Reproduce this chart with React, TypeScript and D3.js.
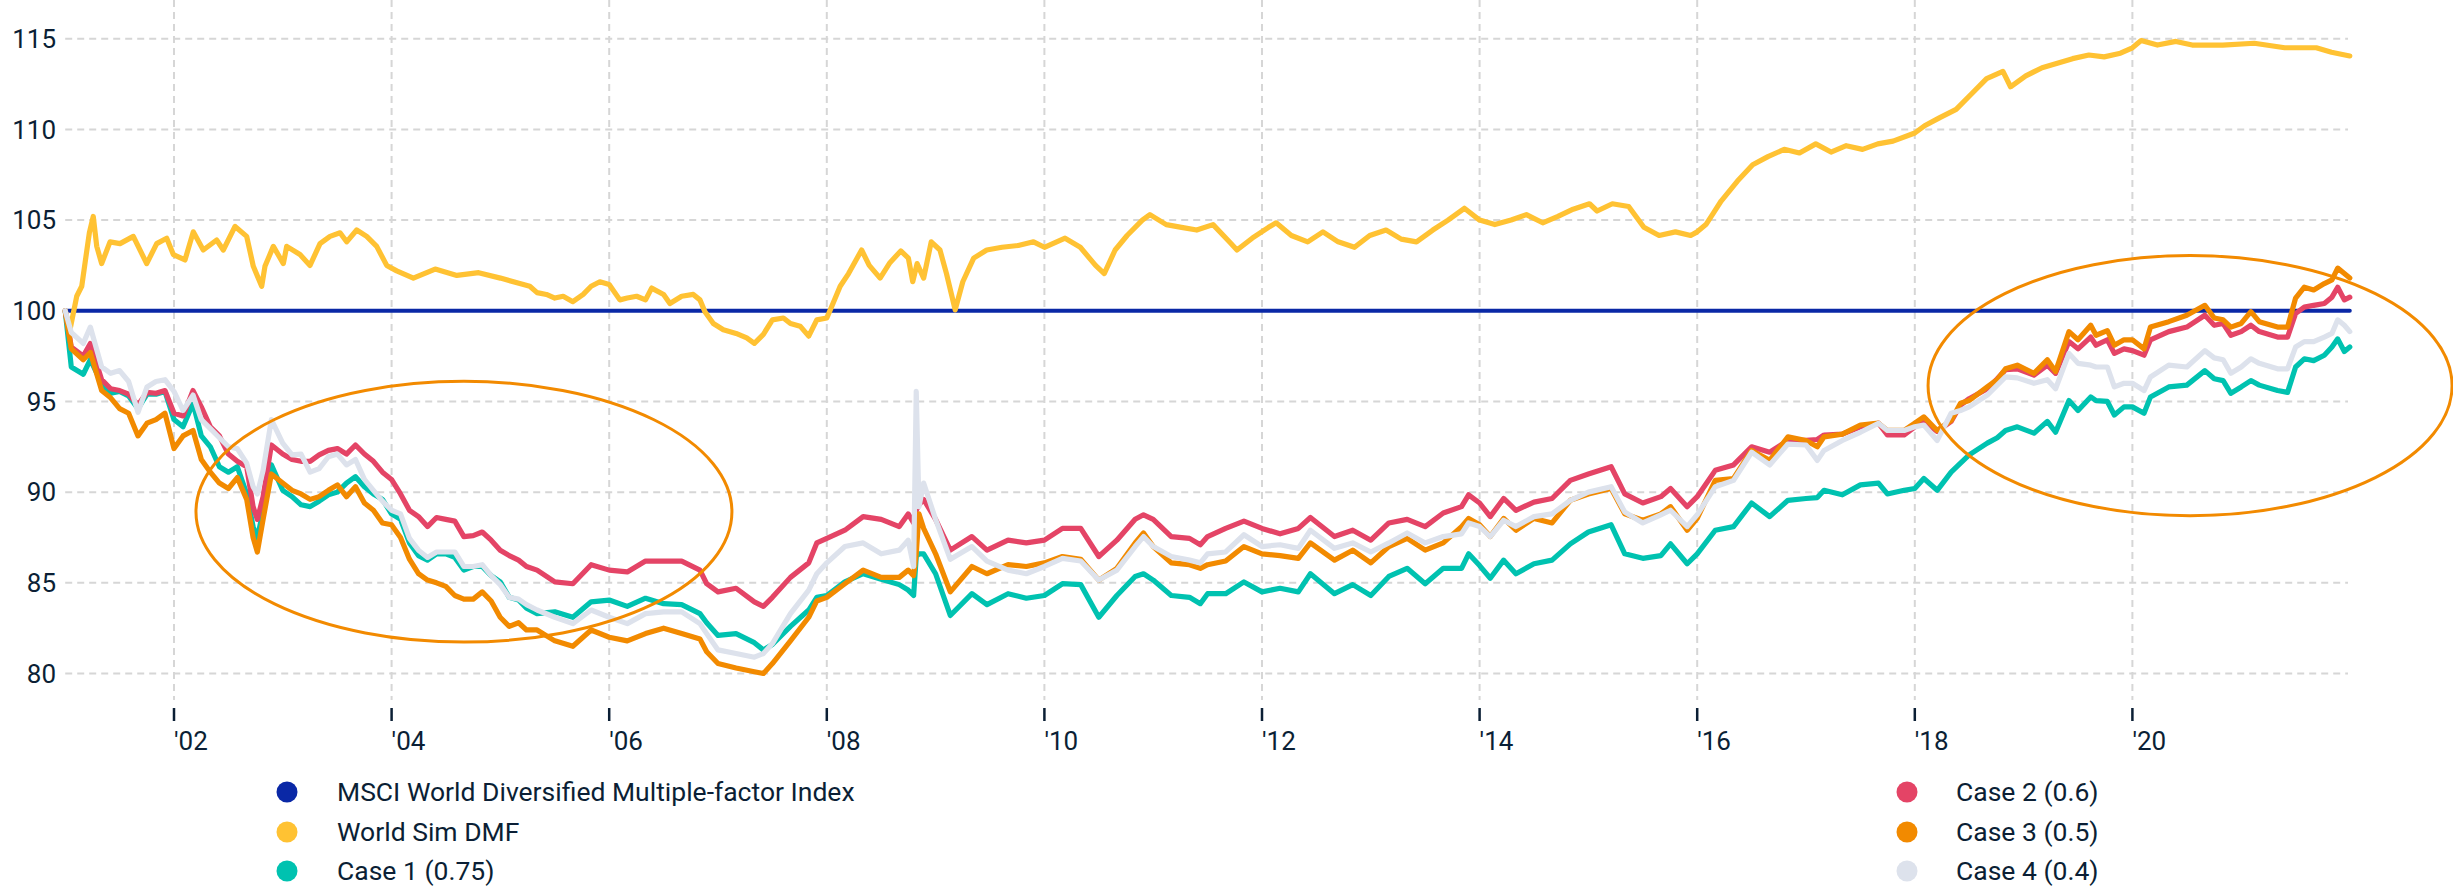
import React from "react";
import * as d3 from "d3";

// ---------- DATA (decimal years, index level) ----------
const caseYears = [
  2001.0, 2001.056, 2001.166, 2001.231, 2001.335, 2001.418, 2001.5, 2001.583, 2001.669, 2001.752, 2001.834, 2001.917,
  2002.0, 2002.083, 2002.175, 2002.251, 2002.334, 2002.417, 2002.5, 2002.582, 2002.668, 2002.727, 2002.766, 2002.819, 2002.895,
  2002.999, 2003.085, 2003.168, 2003.251, 2003.334, 2003.419, 2003.502, 2003.585, 2003.668, 2003.75, 2003.833, 2003.916,
  2003.999, 2004.082, 2004.164, 2004.247, 2004.33, 2004.413, 2004.498, 2004.581, 2004.664, 2004.75, 2004.833, 2004.915,
  2004.998, 2005.081, 2005.167, 2005.24,
  2005.337, 2005.5, 2005.666, 2005.834, 2006.0, 2006.166, 2006.334, 2006.5, 2006.666, 2006.834, 2006.896,
  2007.0, 2007.166, 2007.334, 2007.417, 2007.5, 2007.666, 2007.834, 2007.908,
  2008.0, 2008.166, 2008.334, 2008.5, 2008.666, 2008.748, 2008.798, 2008.822, 2008.847, 2008.89,
  2009.0, 2009.135, 2009.334, 2009.472,
  2009.666, 2009.834, 2010.0, 2010.166, 2010.334, 2010.5, 2010.666, 2010.834, 2010.911, 2011.0,
  2011.166, 2011.334, 2011.433, 2011.5, 2011.666, 2011.834, 2012.0, 2012.166, 2012.334, 2012.445,
  2012.666, 2012.834, 2013.0, 2013.166, 2013.334, 2013.5, 2013.666,
  2013.834, 2013.899, 2014.0, 2014.098, 2014.221, 2014.334, 2014.5, 2014.666, 2014.834, 2015.0,
  2015.209, 2015.334, 2015.5, 2015.666, 2015.755, 2015.908, 2016.0, 2016.166, 2016.334, 2016.5,
  2016.666, 2016.834, 2017.0, 2017.104, 2017.166, 2017.334, 2017.5, 2017.666, 2017.748, 2017.902,
  2018.0, 2018.083, 2018.206, 2018.334, 2018.42, 2018.5, 2018.666, 2018.758, 2018.834, 2018.942,
  2019.095, 2019.218, 2019.294, 2019.417, 2019.5, 2019.617, 2019.666, 2019.77, 2019.834, 2019.923,
  2020.0, 2020.107, 2020.166, 2020.334, 2020.5, 2020.666, 2020.752, 2020.834, 2020.905, 2021.0,
  2021.089, 2021.166, 2021.334, 2021.426, 2021.5, 2021.58, 2021.666, 2021.764, 2021.834, 2021.887, 2021.948, 2021.998,
];

const case1 = [
  100, 96.9, 96.5, 97.3, 96.0, 95.45, 95.55, 95.3, 94.6, 95.4, 95.4, 95.55,
  94.0, 93.6, 94.9, 93.1, 92.5, 91.4, 91.1, 91.4, 89.9, 88.1, 87.45, 89.0, 91.5,
  90.1, 89.75, 89.3, 89.2, 89.5, 89.85, 90.0, 90.5, 90.85, 90.3, 89.9, 89.6,
  88.8, 88.5, 87.2, 86.5, 86.25, 86.6, 86.6, 86.4, 85.7, 85.9, 85.9, 85.4,
  85.05, 84.2, 84.05, 83.6,
  83.3, 83.4, 83.1, 83.95, 84.05, 83.7, 84.15, 83.85, 83.8, 83.3, 82.8,
  82.1, 82.2, 81.7, 81.3, 81.6, 82.6, 83.5, 84.2,
  84.3, 85.05, 85.5, 85.2, 84.9, 84.6, 84.3, 86.45, 86.6, 86.6,
  85.5, 83.2, 84.4, 83.8,
  84.4, 84.15, 84.3, 84.95, 84.9, 83.1, 84.3, 85.35, 85.5, 85.15,
  84.3, 84.2, 83.85, 84.4, 84.4, 85.05, 84.5, 84.7, 84.5, 85.5,
  84.4, 84.9, 84.3, 85.35, 85.8, 84.95, 85.8,
  85.8, 86.6, 85.95, 85.25, 86.25, 85.5, 86.05, 86.25, 87.15, 87.8,
  88.2, 86.6, 86.35, 86.5, 87.15, 86.05, 86.6, 87.9, 88.1, 89.4,
  88.65, 89.55, 89.65, 89.7, 90.1, 89.85, 90.4, 90.5, 89.9, 90.1,
  90.2, 90.75, 90.1, 91.1, 91.6, 92.05, 92.7, 93.0, 93.4, 93.6,
  93.25, 93.9, 93.3, 95.05, 94.5, 95.25, 95.05, 95.0, 94.25, 94.7,
  94.7, 94.35, 95.25, 95.8, 95.9, 96.7, 96.25, 96.15, 95.45, 95.8,
  96.15, 95.9, 95.6, 95.5, 96.9, 97.35, 97.25, 97.55, 98.0, 98.45, 97.75, 98.0,
];

const case2 = [
  100, 98.0, 97.5, 98.2, 96.2, 95.7, 95.6, 95.4, 94.8, 95.5, 95.45, 95.6,
  94.35, 94.2, 95.6, 94.7, 93.6, 93.1, 92.1, 91.7, 91.4, 89.2, 88.5, 89.75, 92.6,
  92.1, 91.8, 91.7, 91.7, 92.05, 92.3, 92.4, 92.1, 92.6, 92.1, 91.7, 91.1,
  90.7, 89.9, 89.0, 88.65, 88.1, 88.6, 88.5, 88.4, 87.55, 87.6, 87.8, 87.35,
  86.8, 86.5, 86.25, 85.9,
  85.7, 85.05, 84.95, 86.0, 85.7, 85.6, 86.2, 86.2, 86.2, 85.7, 84.95,
  84.5, 84.7, 83.95, 83.7, 84.2, 85.3, 86.1, 87.2,
  87.45, 87.9, 88.65, 88.5, 88.1, 88.8, 88.3, 89.0, 89.3, 89.6,
  88.5, 86.8, 87.55, 86.8,
  87.35, 87.2, 87.35, 88.0, 88.0, 86.45, 87.35, 88.5, 88.75, 88.5,
  87.55, 87.45, 87.1, 87.55, 88.0, 88.4, 88.0, 87.7, 88.0, 88.6,
  87.55, 87.9, 87.35, 88.3, 88.5, 88.1, 88.85,
  89.2, 89.85, 89.4, 88.65, 89.65, 89.0, 89.45, 89.65, 90.65, 91.0,
  91.4, 89.9, 89.4, 89.75, 90.2, 89.2, 89.75, 91.2, 91.5, 92.5,
  92.2, 92.85, 92.85, 92.9, 93.15, 93.2, 93.6, 93.8, 93.15, 93.15,
  93.6, 93.9, 93.35, 93.9, 94.8, 95.15, 95.7, 96.25, 96.75, 96.8,
  96.45, 97.0, 96.55, 98.3, 97.9, 98.55, 98.1, 98.4, 97.65, 97.9,
  97.8, 97.55, 98.4, 98.85, 99.1, 99.75, 99.2, 99.3, 98.65, 98.85,
  99.2, 98.85, 98.55, 98.55, 99.85, 100.2, 100.3, 100.4, 100.75, 101.3, 100.6, 100.75,
];

const case3 = [
  100, 97.9, 97.3, 97.7, 95.6, 95.2, 94.6, 94.35, 93.1, 93.8, 94.0, 94.35,
  92.4, 93.1, 93.4, 91.8, 91.1, 90.5, 90.2, 90.8, 89.6, 87.5, 86.7, 88.5, 91.0,
  90.5, 90.1, 89.9, 89.6, 89.75, 90.1, 90.4, 89.75, 90.3, 89.4, 89.0, 88.3,
  88.2, 87.5, 86.3, 85.5, 85.15, 85.0, 84.8, 84.3, 84.1, 84.1, 84.5, 84.0,
  83.1, 82.6, 82.8, 82.4,
  82.4, 81.8, 81.5, 82.4, 82.0, 81.8, 82.2, 82.5, 82.2, 81.9, 81.2,
  80.55, 80.3, 80.1, 80.0, 80.55, 81.8, 83.1, 84.0,
  84.2, 84.95, 85.7, 85.3, 85.3, 85.7, 85.4, 86.6, 88.8, 88.0,
  86.6, 84.5, 85.9, 85.5,
  86.0, 85.9, 86.1, 86.45, 86.3, 85.15, 85.8, 87.2, 87.75, 87.0,
  86.1, 86.0, 85.8, 86.0, 86.2, 87.0, 86.6, 86.5, 86.35, 87.2,
  86.25, 86.8, 86.1, 87.0, 87.45, 86.8, 87.2,
  88.1, 88.55, 88.2, 87.55, 88.55, 87.9, 88.55, 88.3, 89.55, 89.9,
  90.2, 88.8, 88.45, 88.8, 89.2, 87.9, 88.55, 90.65, 90.75, 92.3,
  91.75, 93.05, 92.85, 92.5, 93.05, 93.2, 93.7, 93.8, 93.4, 93.4,
  93.8, 94.15, 93.4, 93.95, 94.9, 95.05, 95.8, 96.2, 96.8, 97.0,
  96.55, 97.3, 96.65, 98.85, 98.4, 99.2, 98.65, 98.9, 98.1, 98.4,
  98.4, 97.9, 99.1, 99.4, 99.75, 100.3, 99.6, 99.5, 99.1, 99.3,
  99.95, 99.4, 99.1, 99.1, 100.7, 101.3, 101.15, 101.5, 101.7, 102.35, 102.05, 101.8,
];

const case4 = [
  100, 98.8, 98.2, 99.1, 96.9, 96.55, 96.7, 96.1, 94.4, 95.8, 96.1, 96.2,
  95.55, 94.5, 95.35, 94.0, 93.5, 93.0, 92.5, 92.4, 91.6, 90.3, 89.9, 91.2, 94.0,
  92.7, 92.05, 92.1, 91.1, 91.3, 91.95, 92.1, 91.5, 91.8, 90.7, 90.1, 89.5,
  89.0, 88.8, 87.45, 86.8, 86.4, 86.7, 86.7, 86.7, 85.9, 85.9, 86.0, 85.4,
  84.9, 84.2, 84.1, 83.8,
  83.5, 83.1, 82.75, 83.5, 83.1, 82.75, 83.3, 83.4, 83.4, 82.75, 82.2,
  81.3, 81.1, 80.9, 81.1, 81.65, 83.3, 84.6, 85.5,
  86.1, 87.0, 87.2, 86.6, 86.8, 87.35, 85.9, 95.55, 89.2, 90.5,
  88.5, 86.3, 87.0, 86.2,
  85.7, 85.5, 85.9, 86.35, 86.2, 85.15, 85.7, 87.0, 87.55, 87.0,
  86.45, 86.25, 86.1, 86.6, 86.7, 87.65, 87.0, 87.1, 86.9, 87.9,
  86.9, 87.2, 86.7, 87.2, 87.75, 87.2, 87.55,
  87.7, 88.3, 88.1, 87.55, 88.45, 88.1, 88.65, 88.8, 89.55, 90.0,
  90.3, 88.9, 88.3, 88.75, 89.0, 88.1, 88.75, 90.3, 90.65, 92.2,
  91.5, 92.65, 92.6, 91.75, 92.3, 92.85, 93.3, 93.8, 93.4, 93.4,
  93.6, 93.7, 92.85, 94.35, 94.5, 94.7, 95.35, 95.9, 96.35, 96.3,
  96.0, 96.2, 95.7, 97.65, 97.1, 97.0, 96.9, 96.9, 95.8, 96.0,
  96.0, 95.6, 96.35, 97.0, 96.9, 97.8, 97.4, 97.3, 96.55, 96.9,
  97.35, 97.1, 96.8, 96.8, 98.0, 98.3, 98.3, 98.55, 98.75, 99.5, 99.2, 98.85,
];

const simYears = [
  2001.0, 2001.044, 2001.106, 2001.152, 2001.191, 2001.222, 2001.258, 2001.29, 2001.335, 2001.412, 2001.504, 2001.626, 2001.749, 2001.841, 2001.933, 2001.994,
  2002.101, 2002.177, 2002.269, 2002.392, 2002.453, 2002.561, 2002.668, 2002.729, 2002.806, 2002.836, 2002.913,
  2003.005, 2003.036, 2003.158, 2003.25, 2003.342, 2003.434, 2003.526, 2003.587, 2003.679, 2003.771, 2003.863, 2003.955,
  2004.047, 2004.2, 2004.4, 2004.6, 2004.8,
  2005.0, 2005.178, 2005.27, 2005.337, 2005.423, 2005.5, 2005.577, 2005.666, 2005.761, 2005.834, 2005.914,
  2006.0, 2006.098, 2006.166, 2006.252, 2006.334, 2006.39, 2006.5, 2006.558, 2006.666, 2006.773, 2006.834, 2006.88, 2006.957,
  2007.049, 2007.166, 2007.264, 2007.334, 2007.417, 2007.5, 2007.601, 2007.666, 2007.755, 2007.834, 2007.908,
  2008.0, 2008.046, 2008.123, 2008.2, 2008.32, 2008.39, 2008.49, 2008.58, 2008.68, 2008.75, 2008.79, 2008.83, 2008.89, 2008.96,
  2009.04, 2009.1, 2009.18, 2009.25, 2009.35, 2009.47, 2009.61, 2009.76, 2009.9,
  2010.0, 2010.19, 2010.33, 2010.47, 2010.55, 2010.65, 2010.76, 2010.9, 2010.97,
  2011.12, 2011.26, 2011.4, 2011.55, 2011.7, 2011.77, 2011.91,
  2012.06, 2012.13, 2012.27, 2012.42, 2012.56, 2012.7, 2012.85, 2012.99,
  2013.14, 2013.28, 2013.42, 2013.57, 2013.71, 2013.86,
  2014.0, 2014.14, 2014.29, 2014.43, 2014.58, 2014.72, 2014.86,
  2015.01, 2015.08, 2015.22, 2015.37, 2015.51, 2015.65, 2015.8, 2015.94,
  2016.0, 2016.08, 2016.15, 2016.22, 2016.37, 2016.51, 2016.65, 2016.8, 2016.94,
  2017.09, 2017.23, 2017.37, 2017.52, 2017.66, 2017.8,
  2018.0, 2018.09, 2018.23, 2018.38, 2018.52, 2018.66, 2018.81, 2018.88,
  2019.02, 2019.17, 2019.31, 2019.45, 2019.6, 2019.74, 2019.89,
  2020.0, 2020.08, 2020.23, 2020.4, 2020.55, 2020.83,
  2021.12, 2021.4, 2021.69, 2021.83, 2021.998,
];

const simValues = [
  100.0, 98.95, 100.8, 101.35, 103.0, 104.3, 105.2, 103.55, 102.6, 103.8, 103.7, 104.1, 102.6, 103.7, 104.0, 103.1,
  102.8, 104.35, 103.35, 103.9, 103.35, 104.65, 104.1, 102.45, 101.35, 102.45, 103.55,
  102.6, 103.55, 103.1, 102.5, 103.7, 104.1, 104.3, 103.8, 104.45, 104.1, 103.55, 102.5,
  102.2, 101.8, 102.3, 101.95, 102.1,
  101.8, 101.5, 101.35, 101.0, 100.9, 100.7, 100.8, 100.5, 100.9, 101.35, 101.6,
  101.45, 100.6, 100.7, 100.8, 100.6, 101.25, 100.9, 100.4, 100.8, 100.9, 100.6, 99.95, 99.3,
  98.95, 98.75, 98.5, 98.2, 98.7, 99.5, 99.6, 99.3, 99.15, 98.6, 99.5,
  99.6, 100.25, 101.35, 102.05, 103.35, 102.5, 101.8, 102.65, 103.3, 102.9, 101.6, 102.6, 101.8, 103.8,
  103.35, 102.05, 100.05, 101.6, 102.9, 103.35, 103.5, 103.6, 103.8,
  103.5, 104.0, 103.5, 102.5, 102.05, 103.35, 104.15, 105.0, 105.3,
  104.75, 104.6, 104.45, 104.75, 103.8, 103.35, 104.0,
  104.6, 104.85, 104.15, 103.8, 104.35, 103.8, 103.5, 104.15,
  104.45, 103.95, 103.8, 104.45, 105.0, 105.65,
  105.0, 104.75, 105.0, 105.3, 104.85, 105.2, 105.6,
  105.9, 105.5, 105.9, 105.75, 104.6, 104.15, 104.35, 104.15,
  104.35, 104.75, 105.4, 106.05, 107.15, 108.05, 108.5, 108.9, 108.7,
  109.2, 108.75, 109.1, 108.9, 109.2, 109.35,
  109.8, 110.2, 110.65, 111.1, 111.95, 112.8, 113.2, 112.35,
  112.95, 113.4, 113.65, 113.9, 114.1, 114.0, 114.2,
  114.5, 114.9, 114.65, 114.85, 114.65, 114.65,
  114.75, 114.5, 114.5, 114.25, 114.05,
];

const msciYears = [2001.0, 2021.998];
const msciValues = [100, 100];

const yTicks = [80, 85, 90, 95, 100, 105, 110, 115];
const xTickYears = [2002, 2004, 2006, 2008, 2010, 2012, 2014, 2016, 2018, 2020];
const xTickLabels = ["'02", "'04", "'06", "'08", "'10", "'12", "'14", "'16", "'18", "'20"];

// Highlight ellipses in data space: centre (year, value), radii (years, value units)
const ellipseCenters = [[2004.665, 88.92], [2020.53, 95.87]];
const ellipseRadii = [[2.463, 7.19], [2.408, 7.17]];

const seriesNames = [
  "MSCI World Diversified Multiple-factor Index",
  "World Sim DMF",
  "Case 1 (0.75)",
  "Case 2 (0.6)",
  "Case 3 (0.5)",
  "Case 4 (0.4)",
];

// ---------- STYLE ----------
const COLORS = ["#0a28a6", "#ffc233", "#00c2b0", "#e44466", "#f28a00", "#dde2ec"];
const TEXT = "#0b1f35";
const GRID = "#d6d6d6";
const FONT = "Roboto, 'Noto Sans', sans-serif";

export default function App() {
  const W = 2453;
  const H = 889;
  const x = d3.scaleLinear().domain([2001, 2022]).range([65.2, 2350]);
  const y = d3.scaleLinear().domain([80, 115]).range([673.5, 38.7]);

  const line = d3
    .line<[number, number]>()
    .x((d) => x(d[0]))
    .y((d) => y(d[1]));

  const series: [number, number][][] = [
    d3.zip(msciYears, msciValues) as [number, number][],
    d3.zip(simYears, simValues) as [number, number][],
    d3.zip(caseYears, case1) as [number, number][],
    d3.zip(caseYears, case2) as [number, number][],
    d3.zip(caseYears, case3) as [number, number][],
    d3.zip(caseYears, case4) as [number, number][],
  ];

  const gridX0 = x(2001);
  const gridX1 = x(2022) - 2;

  const legendLeft = [0, 1, 2];
  const legendRight = [3, 4, 5];
  const legendRows = [792, 832, 871];

  return (
    <svg
      width={W}
      height={H}
      style={{ position: "absolute", left: 0, top: 0, background: "#fff" }}
      fontFamily={FONT}
    >
      <rect x={0} y={0} width={W} height={H} fill="#fff" />
      {yTicks.map((v) => (
        <line
          key={"h" + v}
          x1={gridX0}
          x2={gridX1}
          y1={y(v)}
          y2={y(v)}
          stroke={GRID}
          strokeWidth={2}
          strokeDasharray="7,5"
        />
      ))}
      {xTickYears.map((t) => (
        <line
          key={"v" + t}
          x1={x(t)}
          x2={x(t)}
          y1={0}
          y2={700}
          stroke={GRID}
          strokeWidth={2}
          strokeDasharray="7,5"
        />
      ))}
      {yTicks.map((v) => (
        <text key={"yl" + v} x={56} y={y(v) + 9.3} textAnchor="end" fontSize={26} fill={TEXT}>
          {v}
        </text>
      ))}
      {xTickYears.map((t, i) => (
        <g key={"xt" + t}>
          <line x1={x(t)} x2={x(t)} y1={708} y2={721} stroke={TEXT} strokeWidth={2.5} />
          <text x={x(t)} y={750} fontSize={26} fill={TEXT} textAnchor="start">
            {xTickLabels[i]}
          </text>
        </g>
      ))}
      {series.map((s, i) => (
        <path
          key={"s" + i}
          d={line(s) || ""}
          fill="none"
          stroke={COLORS[i]}
          strokeWidth={i === 0 ? 4 : 5.2}
          strokeLinejoin="round"
          strokeLinecap="round"
        />
      ))}
      {ellipseCenters.map((c, i) => (
        <ellipse
          key={"e" + i}
          cx={x(c[0])}
          cy={y(c[1])}
          rx={x(c[0] + ellipseRadii[i][0]) - x(c[0])}
          ry={y(c[1] - ellipseRadii[i][1]) - y(c[1])}
          fill="none"
          stroke={COLORS[4]}
          strokeWidth={3}
        />
      ))}
      {legendLeft.map((si, r) => (
        <g key={"ll" + si}>
          <circle cx={287} cy={legendRows[r]} r={10.5} fill={COLORS[si]} />
          <text x={337} y={legendRows[r] + 9} fontSize={26.5} fill={TEXT}>
            {seriesNames[si]}
          </text>
        </g>
      ))}
      {legendRight.map((si, r) => (
        <g key={"lr" + si}>
          <circle cx={1907} cy={legendRows[r]} r={10.5} fill={COLORS[si]} />
          <text x={1956} y={legendRows[r] + 9} fontSize={26.5} fill={TEXT}>
            {seriesNames[si]}
          </text>
        </g>
      ))}
    </svg>
  );
}
